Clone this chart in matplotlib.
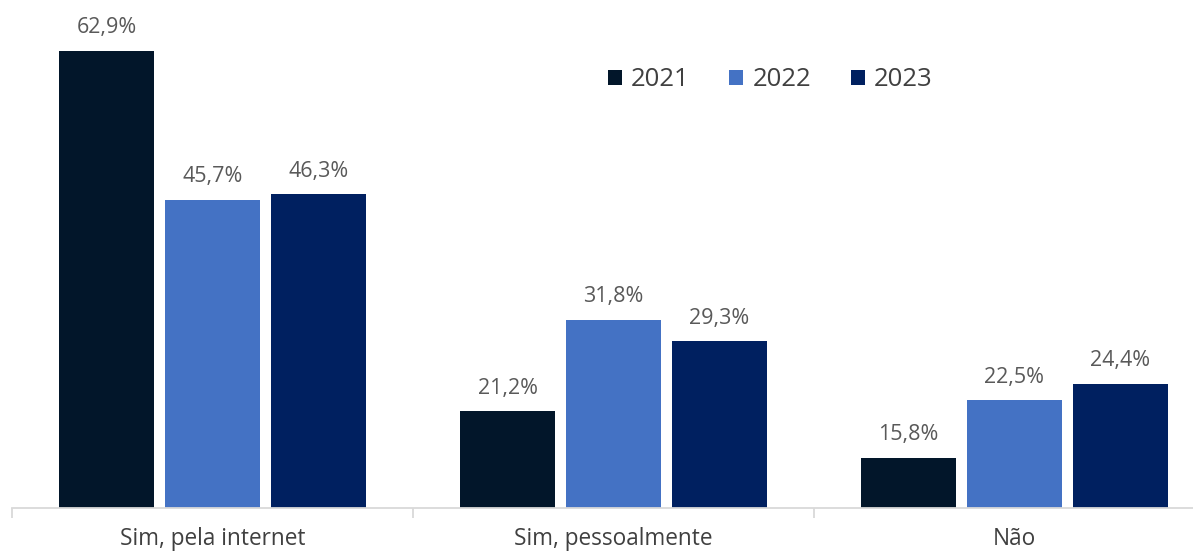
import matplotlib
matplotlib.use("Agg")
import matplotlib.pyplot as plt
import numpy as np

categories = ["Sim, pela internet", "Sim, pessoalmente", "Não"]
years = ["2021", "2022", "2023"]
values_2021 = [62.9, 21.2, 15.8]
values_2022 = [45.7, 31.8, 22.5]
values_2023 = [46.3, 29.3, 24.4]
series = [values_2021, values_2022, values_2023]
colors = ["#02162A", "#4472C4", "#002060"]

plt.rcParams['font.family'] = ['Open Sans', 'DejaVu Sans']
W, H = 1193, 555
fig = plt.figure(figsize=(W / 100, H / 100), dpi=100)
left = 12 / W
bottom = (H - 508) / H
ax = fig.add_axes([left, bottom, 1.0 - left, 1.0 - bottom])

x = np.arange(len(categories))
width = 0.237
step = 0.264
for i, (vals, col, yr) in enumerate(zip(series, colors, years)):
    pos = x + (i - 1) * step
    ax.bar(pos, vals, width=width, color=col, label=yr)
    for p, v in zip(pos, vals):
        ax.annotate(f"{v:.1f}%".replace(".", ","), (p, v), xytext=(0, 9),
                    textcoords="offset points", ha="center", va="bottom",
                    fontsize=15.5, color="#595959")

for s in ["top", "right", "left"]:
    ax.spines[s].set_visible(False)
ax.spines["bottom"].set_color("#D9D9D9")
ax.spines["bottom"].set_linewidth(1.3)
ax.set_yticks([])
ax.set_xticks([-0.5, 0.5, 1.5, 2.5])
ax.set_xticklabels([])
ax.tick_params(axis="x", length=7, width=1.3, color="#D9D9D9", direction="out")
ax.set_xticks(x, minor=True)
ax.set_xticklabels(categories, minor=True, fontsize=16.3, color="#404040")
ax.tick_params(axis="x", which="minor", length=0, pad=14)

ax.set_ylim(10, 10 + 508 / 8.64)
ax.set_xlim(-0.5, -0.5 + (W - 12) / 401)

leg = ax.legend(loc="center", bbox_to_anchor=((770 - 12) / (W - 12), 1 - 80 / 508),
                ncol=3, frameon=False, fontsize=18.5, handlelength=0.55, handleheight=0.55,
                handletextpad=0.35, columnspacing=1.55, labelcolor="#404040")

fig.savefig("out.png", dpi=100)
